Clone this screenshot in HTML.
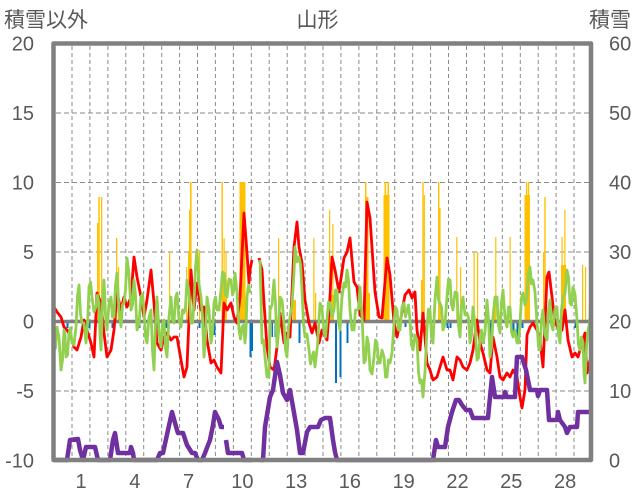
<!DOCTYPE html>
<html><head><meta charset="utf-8">
<style>
html,body{margin:0;padding:0;background:#fff;}
svg{display:block;}
text{font-family:"Liberation Sans","Noto Sans CJK JP",sans-serif;fill:#595959;}
</style></head>
<body>
<svg width="636" height="501" viewBox="0 0 636 501" xmlns="http://www.w3.org/2000/svg">
<rect width="636" height="501" fill="#fff"/>
<g stroke="#8a8a8a" stroke-width="1" fill="none">
<path stroke-dasharray="5,3" d="M56,113H589M56,182.5H589M56,252H589M56,391H589"/>
<path stroke-dasharray="4,3" d="M72,46V458M89.9,46V458M107.9,46V458M125.8,46V458M143.7,46V458M161.7,46V458M179.6,46V458M197.5,46V458M215.4,46V458M233.4,46V458M251.3,46V458M269.2,46V458M287.2,46V458M305.1,46V458M323,46V458M340.9,46V458M358.9,46V458M376.8,46V458M394.7,46V458M412.7,46V458M430.6,46V458M448.5,46V458M466.5,46V458M484.4,46V458M502.3,46V458M520.3,46V458M538.2,46V458M556.1,46V458M574,46V458"/>
</g>
<g fill="#ffc000">
<rect x="96" y="300" width="6" height="21"/>
<rect x="97" y="223" width="1.3" height="98"/>
<rect x="98.3" y="197" width="1.5" height="124"/>
<rect x="101" y="197" width="1.3" height="124"/>
<rect x="116" y="238" width="1.3" height="83"/>
<rect x="118" y="267" width="1.2" height="54"/>
<rect x="169" y="252" width="1.2" height="69"/>
<rect x="186" y="267" width="1.2" height="54"/>
<rect x="188" y="252" width="1.2" height="69"/>
<rect x="189" y="210" width="1.2" height="111"/>
<rect x="190" y="182" width="1.6" height="139"/>
<rect x="199" y="250" width="1.2" height="71"/>
<rect x="221.5" y="182" width="1.4" height="139"/>
<rect x="223.5" y="238" width="1.2" height="83"/>
<rect x="225.5" y="252" width="1.2" height="69"/>
<rect x="222" y="280" width="5" height="41"/>
<rect x="239.5" y="182" width="6" height="139"/>
<rect x="260" y="308" width="1.2" height="13"/>
<rect x="278" y="238" width="1.2" height="83"/>
<rect x="293" y="300" width="3" height="21"/>
<rect x="313.3" y="238" width="1.2" height="83"/>
<rect x="315" y="293" width="1.2" height="28"/>
<rect x="329" y="210" width="1.2" height="111"/>
<rect x="332.3" y="224" width="1.2" height="97"/>
<rect x="330" y="295" width="4" height="26"/>
<rect x="365" y="182" width="1.5" height="139"/>
<rect x="366.5" y="197" width="2" height="124"/>
<rect x="368" y="293" width="2" height="28"/>
<rect x="383.5" y="195" width="6" height="126"/>
<rect x="384.5" y="182" width="1.6" height="139"/>
<rect x="387.5" y="182" width="1.6" height="139"/>
<rect x="421" y="280" width="1.5" height="41"/>
<rect x="422.3" y="182" width="1.4" height="139"/>
<rect x="423.7" y="195" width="1.2" height="126"/>
<rect x="438" y="182" width="1.4" height="139"/>
<rect x="439.3" y="208" width="1.3" height="113"/>
<rect x="456.2" y="237" width="1.2" height="84"/>
<rect x="460" y="267" width="1.2" height="54"/>
<rect x="473.5" y="252" width="1.2" height="69"/>
<rect x="477" y="252" width="1.2" height="69"/>
<rect x="495.2" y="237" width="1.2" height="84"/>
<rect x="493.5" y="308" width="2" height="13"/>
<rect x="509.5" y="237" width="1.2" height="84"/>
<rect x="524.5" y="195" width="5.5" height="126"/>
<rect x="526" y="182" width="1.4" height="139"/>
<rect x="528" y="182" width="1.2" height="139"/>
<rect x="544.3" y="197" width="1.4" height="124"/>
<rect x="543" y="252" width="1.3" height="69"/>
<rect x="561.5" y="237" width="1.2" height="84"/>
<rect x="564.3" y="210" width="1.2" height="111"/>
<rect x="561" y="265" width="5" height="56"/>
<rect x="582" y="265" width="1.2" height="56"/>
<rect x="585" y="267" width="1.2" height="54"/>
</g>
<g fill="#0070c0">
<rect x="66.5" y="321" width="2" height="7"/>
<rect x="88.5" y="321" width="2" height="7"/>
<rect x="111.5" y="321" width="2" height="7"/>
<rect x="138.5" y="321" width="2" height="7"/>
<rect x="155.5" y="321" width="2" height="7"/>
<rect x="165.5" y="321" width="2" height="7"/>
<rect x="198.5" y="321" width="2" height="7"/>
<rect x="203.5" y="321" width="2" height="7"/>
<rect x="213.5" y="321" width="2" height="14"/>
<rect x="249.5" y="321" width="2" height="36"/>
<rect x="251.5" y="321" width="1.5" height="30"/>
<rect x="261.5" y="321" width="1.5" height="22"/>
<rect x="268.5" y="321" width="1.5" height="16"/>
<rect x="271.5" y="321" width="1.5" height="16"/>
<rect x="274.5" y="321" width="1.5" height="16"/>
<rect x="298.5" y="321" width="2" height="22"/>
<rect x="308.5" y="321" width="1.5" height="6"/>
<rect x="335" y="321" width="2" height="62"/>
<rect x="339.5" y="321" width="2" height="56"/>
<rect x="346.5" y="321" width="2" height="22"/>
<rect x="404.5" y="321" width="2" height="6"/>
<rect x="409.5" y="321" width="2" height="6"/>
<rect x="446.5" y="321" width="2" height="7"/>
<rect x="449.5" y="321" width="2" height="7"/>
<rect x="489.5" y="321" width="2" height="16"/>
<rect x="512.5" y="321" width="2" height="16"/>
<rect x="516.5" y="321" width="2" height="16"/>
<rect x="521.5" y="321" width="2" height="7"/>
<rect x="574.5" y="321" width="2" height="7"/>
</g>
<line x1="54" y1="321.5" x2="591" y2="321.5" stroke="#808080" stroke-width="3.5"/>
<g fill="none" stroke="#ff0000" stroke-width="2.8" stroke-linejoin="round">
<polyline points="54,307 57,312 61,317 64,327 67,330 71,337 74,347 77,350 81,337 84,320 87,330 91,343 94,357 97,293 101,303 104,333 107,357 111,350 114,330 117,293 121,310 124,297 127,307 131,297 134,257 137,277 141,297 144,317 147,300 151,270 154,303 157,343 161,350 164,337 167,333 171,340 174,337 177,337 181,360 184,377 187,367 191,270 194,310 197,283 201,310 204,307 207,340 211,363 214,360 217,367 221,373 222,350 224,303 227,310 231,303 234,317 237,323 240,297 244,213 247,253 249,283 250,270 252,260"/>
<polyline points="259,258 262,270 264,303 267,347 270,367 274,370 277,347 280,313 284,343 287,333 290,337 294,247 297,222 299,247 302,263 305,300 309,323 312,333 315,323 319,343 322,330 327,340 330,297 332,257 335,270 339,292 344,258 347,252 350,238 354,282 357,287 360,315 364,320 367,202 370,218 375,292 379,317 382,318 387,258 390,275 394,322 397,337 400,323 405,295 409,290 412,298 415,292 417,330 420,350 423,313 427,363 430,370 433,380 437,377 440,367 443,357 447,370 450,370 453,380 457,357 460,360 463,367 467,370 470,363 473,350 477,320 480,343 483,353 487,370 490,373 493,337 497,357 500,377 503,380 507,373 510,377 513,370 517,377 520,397 522,408 525,390 527,335 530,327 533,323 537,330 540,340 543,367 547,277 549,272 552,297 555,323 558,327 562,330 565,310 568,340 572,357 575,353 578,357 582,343 585,333 587,373 590,360"/>
</g>
<g fill="none" stroke="#92d050" stroke-width="2.8" stroke-linejoin="round">
<polyline points="54,350 55.5,348 57,327 59,338 61,370 62.5,360 64,330 65,334 66,357 67.5,355 69,333 70.5,328 72,343 74,345 76,327 77.5,296 79,285 80.5,314 82,323 84,323 86,343 87.5,325 89,287 90.5,282 92,297 94,312 96,307 97.5,295 99,303 100,336 101,350 102.5,305 104,280 105.5,315 107,330 109,304 111,297 112.5,317 114,317 115.5,285 117,273 119,310 121,327 122.5,305 124,303 125.5,290 127,258 129,274 131,310 132.5,305 134,280 135.5,295 137,330 139,324 141,297 142.5,294 144,310 145.5,337 147,343 149,317 151,310 152.5,350 154,370 155.5,324 157,297 159,332 161,347 162.5,324 164,320 165.5,348 167,357 169,317 171,297 172.5,320 174,323 175.5,298 177,293 179,320 181,327 182.5,310 184,313 185.5,307 187,280 189,292 191,323 192.5,323 194,303 195.5,267 197,250 199,284 201,297 202.5,317 204,357 205.5,337 207,297 209,310 211,343 212.5,333 214,303 215.5,297 217,310 219,310 221,290 222.5,272 224,273 225.5,295 227,297 229,279 231,280 232.5,295 234,290 235,273 237,292 239,330 240.5,339 242,327 243.5,325 245,343 246,330 247,297 248.5,285 250,293"/>
<polyline points="260,260 261,300 262,343 263.5,340 265,357 267,377 269,377 270,310 272,305 274,280 275.5,304 277,347 278.5,332 280,297 282,300 284,323 285.5,350 287,357 288.5,327 290,317 292,305 294,273 295,247 297,262 299,257 300.5,264 302,290 303.5,324 305,337 307,334 309,350 310.5,364 312,357 313.5,352 315,367 317.5,345 320,303 322,308 324,333 325.5,337 327,320 328.5,302 330,303 332,317 334,310 335.5,290 337,290 338.5,320 340,330 342,297 344,283 345.5,287 347,270 348.5,280 350,310 352,330 354,330 355.5,310 357,310 358.5,309 360,287 362,315 364,363 365.5,360 367,337 368.5,344 370,370 372,374 374,357 375.5,340 377,343 378.5,363 380,363 382,350 384,357 385.5,377 387,377 388.5,360 390,363 392,353 394,323 395.5,307 397,310 398.5,330 400,330 402,307 404,303 405.5,317 407,310 408.5,305 410,320 411.5,345 413,350 415,335 417,340 418.5,372 420,383 421.5,380 423,397 425,372 427,327 428.5,309 430,310 431.5,337 433,343 435,300 437,277 438.5,300 440,303 441.5,307 443,330 445,324 447,297 448.5,279 450,280 451.5,305 453,310 455,292 457,293 458.5,325 460,337 461.5,307 463,297 465,315 467,313 468.5,318 470,343 471.5,335 473,307 475,324 477,360 478.5,358 480,337 481.5,330 483,343 485,332 487,300 488.5,319 490,357 491.5,347 493,317 495,297 497,297 498.5,325 500,333 501.5,302 503,290 505,318 507,327 508.5,307 510,307 511.5,332 513,337 515,330 517,343 518.5,343 520,323 521.5,298 523,293 525,305 527,297 528.5,272 530,267 531.5,284 533,280 535,292 537,323 538.5,347 540,350 541.5,320 543,310 545,335 547,340 548.5,310 550,300 551.5,325 553,330 555,309 557,307 558.5,335 560,343 561.5,310 563,297 565,294 567,270 568.5,277 570,303 571.5,305 573,287 575,294 577,320 578.5,345 580,350 581.5,337 583,343 584,373 585,383 586.5,347 588,330 589.5,324 591,297"/>
</g>
<g fill="none" stroke="#7030a0" stroke-width="4.5" stroke-linejoin="round">
<polyline points="54,460 67,460 70,440 78,439 80,450 83,460 86,447 95,447 98,460 110,460 113,440 115,433 118,453 130,453 131,447 133,453 134,460 157,460 160,453 163,453 168,430 172,412 177,430 178,433 183,433 187,445 192,453 195,453 198,460 202,460 205,453 210,440 213,425 215,412 219,420 221,427 224,427"/>
<polyline points="226,440 228,453 242,453 244,460 252,460"/>
<polyline points="260,460 263,460 265,427 270,397 273,390 277,362 280,375 283,393 287,400 290,390 293,407 297,430 300,453 303,453 307,432 310,427 318,427 321,420 325,418 330,418 333,440 335,452 337,460 433,460 436,440 438,447 445,447 448,427 452,412 456,400 459,400 462,405 466,410 470,410 473,418 488,418 490,397 492,377 495,397 504,397 505,392 507,397 515,397 517,357 522,357 526,370 530,390 537,390 538,396 540,390 547,390 549,420 557,420 558,412 560,420 565,427 567,433 570,427 577,427 578,412 592,412"/>
</g>
<path d="M53.5,460V43.5H591V460Z" fill="none" stroke="#808080" stroke-width="4.5" stroke-linejoin="round"/>
<text x="4" y="27" font-size="21">積雪以外</text>
<text x="317.5" y="27" font-size="21" text-anchor="middle">山形</text>
<text x="589" y="27" font-size="21">積雪</text>
<g font-size="20" text-anchor="end">
<text x="34" y="50.5">20</text>
<text x="34" y="120">15</text>
<text x="34" y="189.5">10</text>
<text x="34" y="259">5</text>
<text x="34" y="328.5">0</text>
<text x="34" y="398">-5</text>
<text x="34" y="467.5">-10</text>
</g>
<g font-size="20">
<text x="609" y="50.5">60</text>
<text x="609" y="120">50</text>
<text x="609" y="189.5">40</text>
<text x="609" y="259">30</text>
<text x="609" y="328.5">20</text>
<text x="609" y="398">10</text>
<text x="609" y="467.5">0</text>
</g>
<g font-size="20" text-anchor="middle">
<text x="81" y="488">1</text>
<text x="134.8" y="488">4</text>
<text x="188.6" y="488">7</text>
<text x="242.4" y="488">10</text>
<text x="296.1" y="488">13</text>
<text x="349.9" y="488">16</text>
<text x="403.7" y="488">19</text>
<text x="457.5" y="488">22</text>
<text x="511.3" y="488">25</text>
<text x="565.1" y="488">28</text>
</g>
</svg>
</body></html>
